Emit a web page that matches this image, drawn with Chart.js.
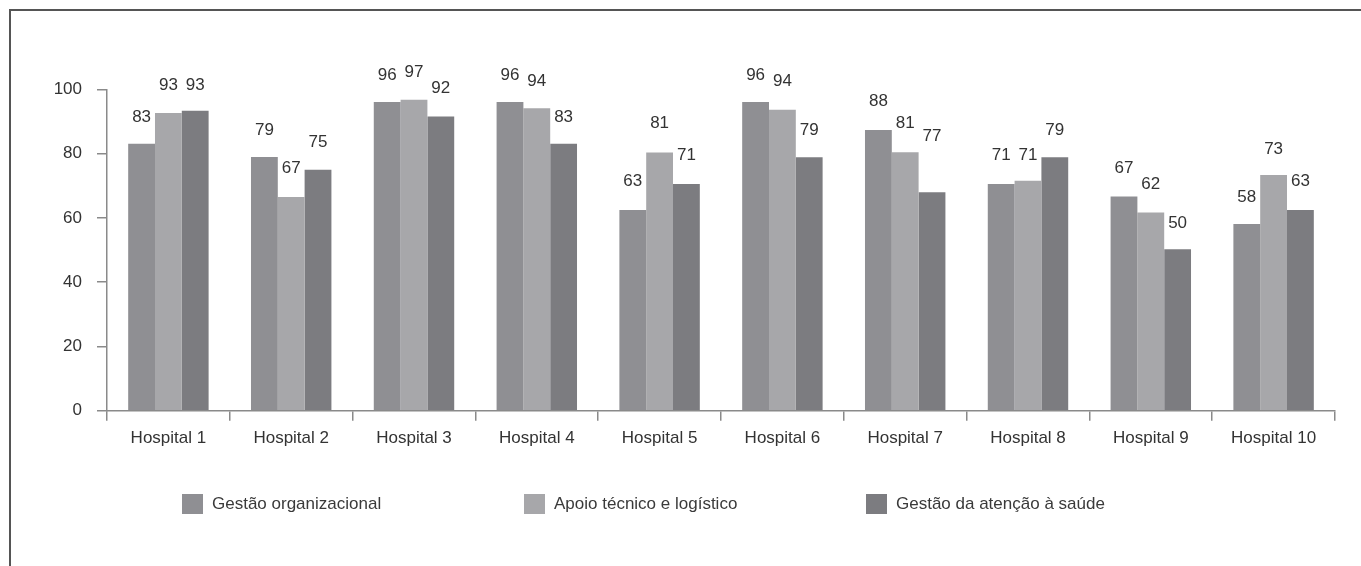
<!DOCTYPE html>
<html>
<head>
<meta charset="utf-8">
<script src="https://cdn.jsdelivr.net/npm/chart.js@4.4.1/dist/chart.umd.min.js"></script>
<style>
  html, body { margin: 0; padding: 0; background: #fff; }
  #wrap { position: relative; width: 1361px; height: 566px; overflow: hidden; }
  #frame { position: absolute; left: 9px; top: 9px; right: -5px; bottom: -5px;
           border-top: 2px solid #555; border-left: 2px solid #555; }
  canvas { position: absolute; left: 0; top: 0; }
  .lg { position: absolute; top: 494px; height: 20px; display: flex; align-items: center;
        font-family: "Liberation Sans", Arial, sans-serif; font-size: 17px; color: #3a3a3a; white-space: nowrap; }
  .lg span.box { display: inline-block; width: 21px; height: 20px; margin-right: 9px; }
</style>
</head>
<body>
<div id="wrap">
  <div id="frame"></div>
  <canvas id="c" width="1361" height="566"></canvas>
  <div id="legend"></div>
</div>
<script>
// ---- data ----
const categories = ["Hospital 1","Hospital 2","Hospital 3","Hospital 4","Hospital 5","Hospital 6","Hospital 7","Hospital 8","Hospital 9","Hospital 10"];
const seriesNames = ["Gestão organizacional","Apoio técnico e logístico","Gestão da atenção à saúde"];
// bar heights as drawn
const gestaoOrganizacional = [83.1, 79.0, 96.1, 96.1, 62.5, 96.1, 87.4, 70.6, 66.7, 58.1];
const apoioTecnico        = [92.7, 66.5, 96.8, 94.2, 80.4, 93.7, 80.5, 71.6, 61.7, 73.4];
const gestaoAtencao       = [93.4, 75.0, 91.6, 83.1, 70.6, 78.9, 68.0, 78.9, 50.3, 62.5];
// printed value labels
const labelsGestaoOrg     = [83, 79, 96, 96, 63, 96, 88, 71, 67, 58];
const labelsApoio         = [93, 67, 97, 94, 81, 94, 81, 71, 62, 73];
const labelsAtencao       = [93, 75, 92, 83, 71, 79, 77, 79, 50, 63];
const yTicks = [0, 20, 40, 60, 80, 100];

const colors = ["#8f8f93", "#a7a7aa", "#7c7c80"];
const FONT = '"Liberation Sans", Arial, sans-serif';
const printed = [labelsGestaoOrg, labelsApoio, labelsAtencao];

const valueLabels = {
  id: 'valueLabels',
  afterDatasetsDraw(chart) {
    const ctx = chart.ctx;
    const ys = chart.scales.y;
    ctx.save();
    ctx.font = '17px ' + FONT;
    ctx.fillStyle = '#333';
    ctx.textAlign = 'center';
    ctx.textBaseline = 'middle';
    chart.data.datasets.forEach((ds, i) => {
      const meta = chart.getDatasetMeta(i);
      meta.data.forEach((bar, j) => {
        const v = printed[i][j];
        ctx.fillText(String(v), bar.x, ys.getPixelForValue(v) - 27);
      });
    });
    ctx.restore();
  }
};

new Chart(document.getElementById('c'), {
  type: 'bar',
  data: {
    labels: categories,
    datasets: [
      { label: seriesNames[0], data: gestaoOrganizacional, backgroundColor: colors[0] },
      { label: seriesNames[1], data: apoioTecnico, backgroundColor: colors[1] },
      { label: seriesNames[2], data: gestaoAtencao, backgroundColor: colors[2] }
    ]
  },
  options: {
    responsive: false,
    animation: false,
    layout: { padding: { top: 89.5, right: 26, bottom: 95.3, left: 0 } },
    datasets: { bar: { categoryPercentage: 0.655, barPercentage: 1.0 } },
    plugins: { legend: { display: false }, tooltip: { enabled: false } },
    scales: {
      x: {
        grid: { offset: true, drawOnChartArea: false, color: '#8a8a8a', tickLength: 10, lineWidth: 1.5 },
        border: { color: '#8a8a8a', width: 1.5 },
        ticks: { color: '#333', font: { family: FONT, size: 17 }, padding: 7, maxRotation: 0 },
        afterFit(s) { s.height = 60; }
      },
      y: {
        min: 0, max: 100,
        afterBuildTicks(s) { s.ticks = yTicks.map(v => ({ value: v })); },
        grid: { drawOnChartArea: false, color: '#8a8a8a', tickLength: 10, lineWidth: 1.5 },
        border: { color: '#8a8a8a', width: 1.5 },
        ticks: { color: '#333', font: { family: FONT, size: 17 }, padding: 15 },
        afterFit(s) { s.width = 107; }
      }
    }
  },
  plugins: [valueLabels]
});

// legend (HTML)
const legendX = [182, 524, 866];
const lg = document.getElementById('legend');
seriesNames.forEach((n, i) => {
  const d = document.createElement('div');
  d.className = 'lg';
  d.style.left = legendX[i] + 'px';
  d.innerHTML = '<span class="box" style="background:' + colors[i] + '"></span>' + n;
  lg.appendChild(d);
});
</script>
</body>
</html>
